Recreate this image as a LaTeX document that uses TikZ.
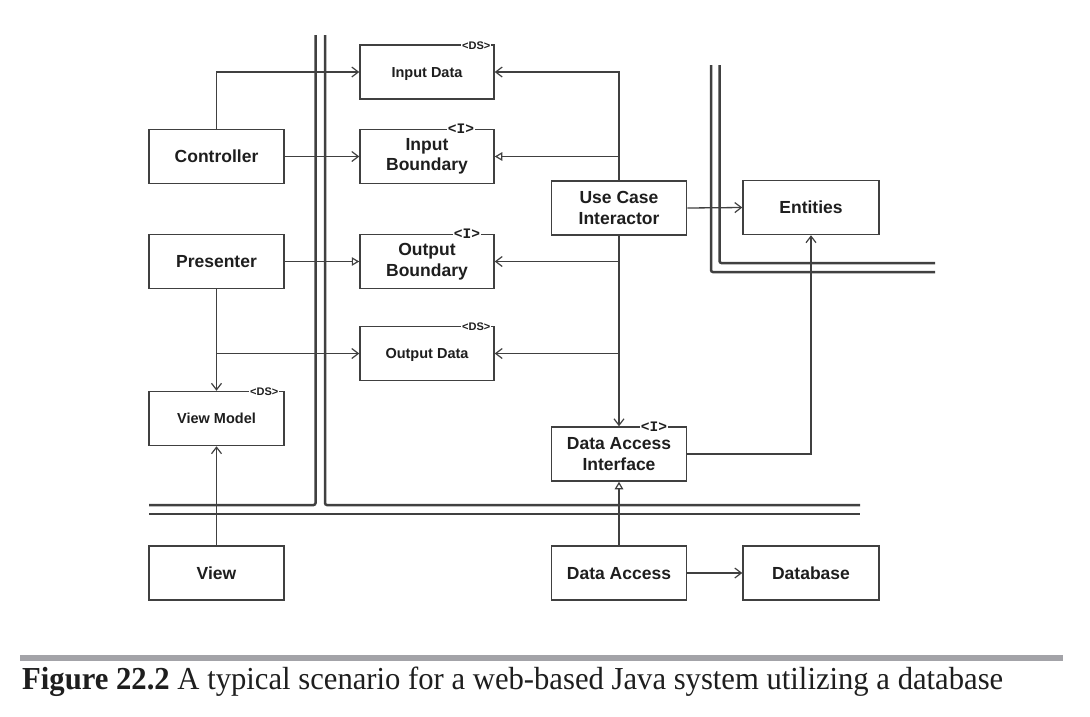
\documentclass[tikz,border=0pt]{standalone}
\usepackage{fontspec}
\setmainfont{Liberation Serif}
\setsansfont{Liberation Sans}
\newfontfamily\labfont{Liberation Mono}
\usetikzlibrary{arrows.meta}
\definecolor{ln}{HTML}{404040}
\definecolor{tx}{HTML}{1E1E1E}
\definecolor{barc}{HTML}{A3A3A8}
\tikzset{
  box/.style={draw=ln, line width=1.5pt, minimum width=135pt, minimum height=54pt, inner sep=1pt,
    align=center, text=tx, font=\sffamily\bfseries\fontsize{17.5}{20.5}\selectfont},
  smallbox/.style={box, font=\sffamily\bfseries\fontsize{14.5}{16}\selectfont},
  one/.style={text height=13pt, text depth=0.5pt},
  onesmall/.style={text height=11pt, text depth=0.5pt},
  tag/.style={fill=white, inner sep=1pt, text=tx, font=\sffamily\bfseries\fontsize{11}{11}\selectfont},
  itag/.style={fill=white, inner xsep=1pt, inner ysep=0pt, text=tx, font=\labfont\bfseries\fontsize{14.5}{14}\selectfont},
  conn/.style={draw=ln, line width=1.3pt},
  arr/.style={conn, -{Straight Barb[length=6.5pt,width=10pt,line width=1.2pt]}},
  tri/.style={conn, -{Triangle[open,length=7.5pt,width=8.5pt,line width=1.2pt]}},
  wall/.style={draw=ln, line width=2.5pt, rounded corners=2pt},
}
\begin{document}
\begin{tikzpicture}[x=1pt,y=-1pt]
\useasboundingbox[fill=white] (0,0) rectangle (1090,716);

% walls
\draw[wall] (149,505) -- (315.5,505) -- (315.5,35);
\draw[wall] (325,35) -- (325,505) -- (860,505);
\draw[wall] (149,514) -- (860,514);
\draw[wall] (711,65) -- (711,272) -- (935,272);
\draw[wall] (719.5,65) -- (719.5,263) -- (935,263);

% boxes
\node[box, one] (ctrl) at (216.5,156.5) {Controller};
\node[box, one] (pres) at (216.5,261.5) {Presenter};
\node[smallbox, onesmall] (vm) at (216.5,418.5) {View Model};
\node[box, one] (view) at (216.5,573) {View};
\node[smallbox, onesmall, minimum width=134pt] (indata) at (427,72) {Input Data};
\node[box, minimum width=134pt] (inb) at (427,156.5) {Input\\Boundary};
\node[box, minimum width=134pt] (outb) at (427,261.5) {Output\\Boundary};
\node[smallbox, onesmall, minimum width=134pt] (outdata) at (427,353.5) {Output Data};
\node[box] (uci) at (619,208) {Use Case\\Interactor};
\node[box, one, minimum width=136pt] (ent) at (811,207.5) {Entities};
\node[box] (dai) at (619,454) {Data Access\\Interface};
\node[box, one] (da) at (619,573) {Data Access};
\node[box, one, minimum width=136pt] (db) at (811,573) {Database};

% stereotype tags
\node[tag, minimum height=22pt, anchor=north west] (t1) at (461,35) {<DS>};
\node[tag, minimum height=22pt, anchor=north west] (t2) at (461,316) {<DS>};
\node[tag, minimum height=22pt, anchor=north west] (t3) at (249,381) {<DS>};
\node[itag] (t4) at (461,129) {<I>};
\node[itag] (t5) at (467,234) {<I>};
\node[itag] (t6) at (654,427) {<I>};

% connectors
\draw[arr] (ctrl.north) |- (indata.west);
\draw[arr] (ctrl.east) -- (inb.west);
\draw[tri] (pres.east) -- (outb.west);
\draw[arr] (pres.south) -- (vm.north);
\coordinate (pbr) at (216.5,353.5);
\draw[arr] (pbr) -- (outdata.west);
\draw[arr] (view.north) -- (vm.south);

\draw[arr] (uci.north) |- (indata.east);
\draw[tri] (uci.north) |- (inb.east);
\draw[arr] (uci.south) |- (outb.east);
\draw[arr] (uci.south) |- (outdata.east);
\draw[arr] (uci.south) -- (dai.north);
\draw[arr] (uci.east) -- (ent.west);
\draw[arr] (dai.east) -| (ent.south);
\draw[tri] (da.north) -- (dai.south);
\draw[arr] (da.east) -- (db.west);

% caption
\fill[barc] (20,655) rectangle (1063,660.5);
\node[anchor=base west, inner sep=0pt, text=tx] (cap) at (22,689)
  {\resizebox{981pt}{\height}{\fontsize{32}{34}\selectfont\textbf{Figure 22.2} A typical scenario for a web-based Java system utilizing a database}};
\end{tikzpicture}
\end{document}
